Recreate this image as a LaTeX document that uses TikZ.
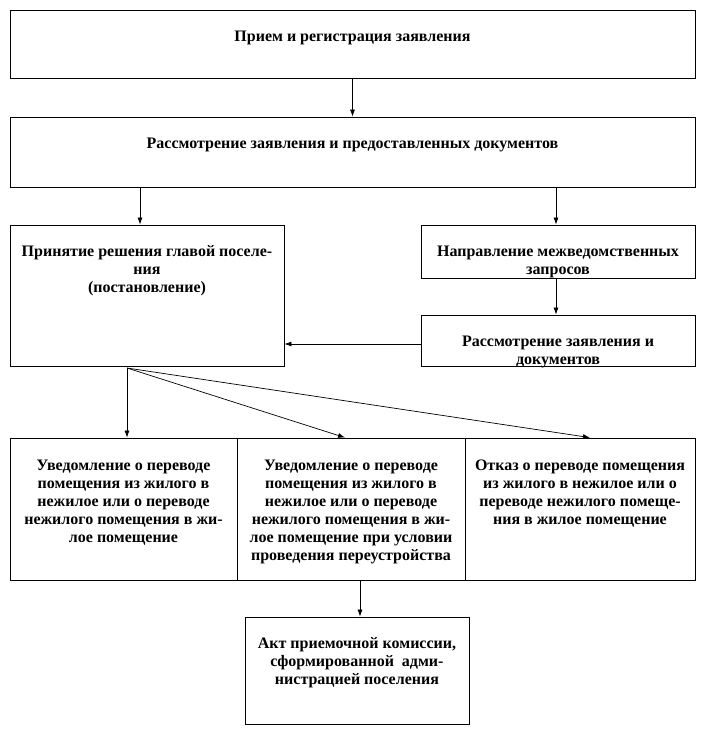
\documentclass[tikz,border=0pt]{standalone}
\usepackage{fontspec}
\setmainfont{Liberation Serif}
\usetikzlibrary{arrows.meta}

\begin{document}
\begin{tikzpicture}[
    x=1pt, y=-1pt,
    box/.style={draw=black, line width=0.8pt, inner sep=0pt},
    txt/.style={anchor=north, align=center, inner sep=0pt,
                font=\bfseries\fontsize{16}{18}\selectfont},
    link/.style={draw=black, line width=0.7pt, -{Latex[length=7pt, width=5pt]}},
  ]
  \useasboundingbox (0,0) rectangle (702,738);
  % top row
  \node[box, minimum width=685pt, minimum height=68pt] (reg) at (352.5,44) {};
  \node[txt] (regtext) at ([yshift=-21pt]reg.north) {Прием и регистрация заявления};
  \node[box, minimum width=685pt, minimum height=70pt] (rev) at (352.5,152) {};
  \node[txt] (revtext) at ([yshift=-21pt]rev.north) {Рассмотрение заявления и предоставленных документов};
  % middle
  \node[box, minimum width=274pt, minimum height=141pt] (dec) at (147,295.5) {};
  \node[txt] (dectext) at ([yshift=-21pt]dec.north)
    {Принятие решения главой поселе-\\ния\\(постановление)};
  \node[box, minimum width=274pt, minimum height=53pt] (req) at (558,251.5) {};
  \node[txt] (reqtext) at ([yshift=-21pt]req.north)
    {Направление межведомственных\\запросов};
  \node[box, minimum width=274pt, minimum height=51pt] (chk) at (558,340.5) {};
  \node[txt] (chktext) at ([yshift=-21pt]chk.north)
    {Рассмотрение заявления и\\документов};
  % results
  \node[box, minimum width=227pt, minimum height=142pt] (resa) at (123.5,509) {};
  \node[txt] (resatext) at ([yshift=-22pt]resa.north)
    {Уведомление о переводе\\помещения из жилого в\\нежилое или о переводе\\нежилого помещения в жи-\\лое помещение};
  \node[box, minimum width=228pt, minimum height=142pt] (resb) at (351,509) {};
  \node[txt] (resbtext) at ([yshift=-22pt]resb.north)
    {Уведомление о переводе\\помещения из жилого в\\нежилое или о переводе\\нежилого помещения в жи-\\лое помещение при условии\\проведения переустройства};
  \node[box, minimum width=230pt, minimum height=142pt] (resc) at (580,509) {};
  \node[txt] (resctext) at ([yshift=-22pt]resc.north)
    {Отказ о переводе помещения\\из жилого в нежилое или о\\переводе нежилого помеще-\\ния в жилое помещение};
  \node[box, minimum width=224pt, minimum height=107pt] (act) at (357,670.5) {};
  \node[txt] (acttext) at ([yshift=-21pt]act.north)
    {Акт приемочной комиссии,\\сформированной~~адми-\\нистрацией поселения};
  % connectors
  \coordinate (fan) at (127,368);
  \draw[link] (reg.south) -- (rev.north);
  \draw[link] ([xshift=-7pt]dec.north |- rev.south) -- ([xshift=-7pt]dec.north);
  \draw[link] ([xshift=-2pt]req.north |- rev.south) -- ([xshift=-2pt]req.north);
  \draw[link] ([xshift=-2pt]req.south) -- ([xshift=-2pt]chk.north);
  \draw[link] ([yshift=-3.5pt]chk.west) -- ([yshift=-3.5pt]chk.west -| dec.east);
  \draw[link] (fan) -- ([xshift=3.5pt]resa.north);
  \draw[link] (fan) -- ([xshift=-6pt]resb.north);
  \draw[link] (fan) -- ([xshift=10pt]resc.north);
  \draw[link] ([xshift=3pt]act.north |- resb.south) -- ([xshift=3pt]act.north);
\end{tikzpicture}
\end{document}
